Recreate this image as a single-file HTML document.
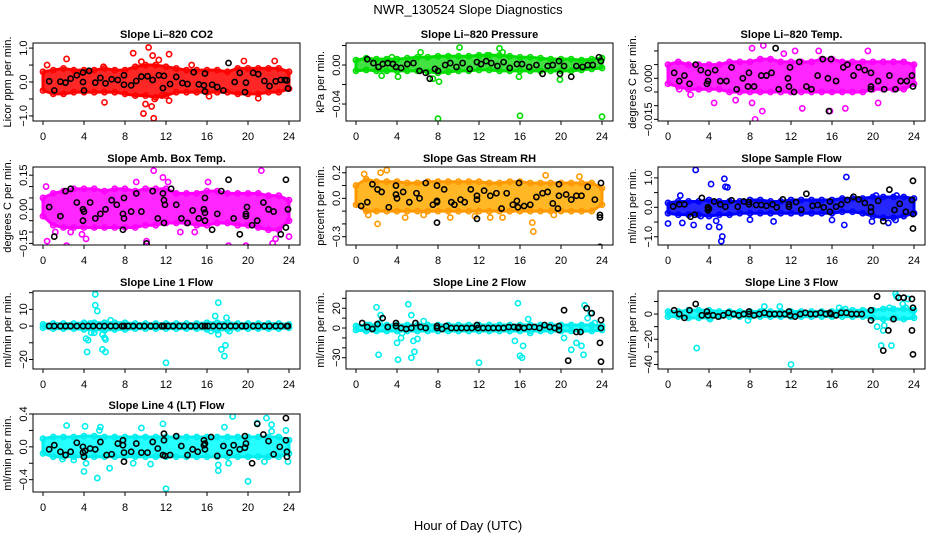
<!DOCTYPE html>
<html><head><meta charset="utf-8"><style>
html,body{margin:0;padding:0;background:#fff;}
svg{display:block;font-family:"Liberation Sans",sans-serif;}
</style></head><body>
<svg id="chart" width="936" height="540" viewBox="0 0 936 540">
<text x="468" y="14" font-size="13" text-anchor="middle">NWR_130524  Slope Diagnostics</text>
<text x="468" y="530" font-size="13" text-anchor="middle">Hour of Day (UTC)</text>
</svg>
<script>
const hours=[0,1,2,3,4,5,6,7,8,9,10,11,12,13,14,15,16,17,18,19,20,21,22,23,24];
const xTicks=[0,4,8,12,16,20,24];

const co2Up=[0.3,0.35,0.4,0.35,0.35,0.35,0.4,0.35,0.35,0.45,0.5,0.5,0.45,0.4,0.35,0.35,0.35,0.35,0.3,0.4,0.4,0.4,0.4,0.4,0.3];
const co2Lo=[-0.25,-0.35,-0.35,-0.3,-0.3,-0.3,-0.3,-0.3,-0.35,-0.4,-0.4,-0.45,-0.4,-0.3,-0.3,-0.3,-0.3,-0.3,-0.3,-0.35,-0.35,-0.35,-0.3,-0.3,-0.2];
const co2Out=[[0.4,0.5],[2.3,0.68],[6,-0.6],[8.8,0.85],[9.8,-0.93],[10,-0.65],[10.3,1.02],[10.6,-0.72],[10.8,-1.07],[10.7,0.78],[11.6,-0.4],[12.3,0.82],[12.3,-0.55],[9.6,0.6],[5.9,0.45],[16.2,-0.42],[19.6,0.62],[21,-0.48],[22.6,0.62],[14.5,0.5],[11.3,0.65],[10.9,-0.5]];
const co2Blk=[[0.6,0.02],[1.1,-0.25],[1.7,0.01],[2.2,-0.02],[2.7,0.1],[3.3,0.2],[3.9,0.28],[3.9,0.0],[4,-0.25],[4.5,0.33],[5.1,-0.02],[5.6,0.12],[6.1,-0.04],[6.7,0.08],[7.3,0.06],[7.9,0.2],[7.9,-0.08],[8.6,-0.1],[9.1,0.03],[9.6,0.16],[10.2,0.17],[10.7,0.06],[11.3,0.2],[11.7,-0.18],[11.8,0.18],[12.4,-0.06],[13,0.15],[13.6,-0.03],[14.1,-0.06],[14.7,0.29],[15.2,-0.07],[15.7,-0.1],[15.8,-0.28],[15.8,0.25],[16.5,-0.08],[17,-0.15],[17.6,-0.25],[18.1,0.56],[18.7,0.0],[19.2,0.27],[19.7,-0.3],[19.8,-0.02],[20.5,0.27],[21,0.23],[21.6,0.03],[22.1,-0.12],[22.7,0.02],[23.2,0.06],[23.6,0.06],[23.8,0.05],[23.9,-0.19]];

const presUp=[0.005,0.007,0.006,0.006,0.006,0.007,0.008,0.008,0.009,0.009,0.009,0.009,0.01,0.01,0.01,0.009,0.008,0.008,0.007,0.006,0.006,0.006,0.005,0.006,0.007];
const presLo=[-0.006,-0.005,-0.006,-0.006,-0.006,-0.006,-0.006,-0.007,-0.008,-0.007,-0.006,-0.006,-0.005,-0.005,-0.006,-0.006,-0.006,-0.006,-0.006,-0.006,-0.006,-0.006,-0.005,-0.004,-0.003];
const presOut=[[8,-0.055],[16,-0.052],[24,-0.053],[10.1,0.018],[14,0.017],[8.1,-0.017],[6.3,0.013],[12.8,0.01],[15.9,-0.012],[19.9,-0.015],[2.5,-0.011],[4.1,-0.012],[7.5,-0.014],[3.5,0.008],[14.3,0.013]];
const presBlk=[[1.1,0.006],[1.7,0.002],[2.2,-0.002],[2.6,0.001],[3.1,0.002],[3.6,0.001],[3.9,-0.002],[4.4,-0.003],[5,0.001],[5.6,0.002],[6.2,-0.006],[6.8,-0.008],[7.2,-0.014],[7.7,-0.004],[8,-0.006],[8.7,0.0],[9.2,0.002],[9.8,-0.002],[10.4,0.002],[11.1,-0.004],[11.8,0.003],[12.2,0.001],[12.7,0.004],[13.2,0.002],[13.8,-0.001],[14.4,0.003],[15,-0.003],[15.7,0.001],[16.2,0.001],[16.9,-0.002],[17.6,0.0],[18.2,-0.009],[18.7,-0.001],[19.2,0.0],[19.8,0.004],[19.9,-0.009],[20.3,-0.001],[21,-0.012],[21.5,-0.001],[22.1,-0.002],[22.6,0.0],[23.1,0.0],[23.7,0.008],[23.9,0.004]];

const ltUp=[0.005,0.006,0.005,0.005,0.005,0.005,0.006,0.006,0.006,0.007,0.007,0.006,0.006,0.006,0.006,0.007,0.007,0.006,0.006,0.006,0.006,0.006,0.006,0.006,0.005];
const ltLo=[-0.002,-0.003,-0.004,-0.004,-0.004,-0.004,-0.005,-0.005,-0.005,-0.005,-0.005,-0.005,-0.005,-0.005,-0.005,-0.005,-0.005,-0.005,-0.005,-0.005,-0.004,-0.004,-0.004,-0.004,-0.002];
const ltOut=[[8.5,-0.015],[9.3,0.012],[8.2,0.011],[9.2,-0.012],[13.1,-0.011],[15.8,-0.012],[14.7,0.01],[11.3,0.009],[12.4,0.01],[4.5,-0.009],[6.6,-0.008],[8.2,-0.009],[20.5,-0.009],[17.3,-0.011],[2.2,-0.006],[19.5,0.01],[1.1,-0.004]];
const ltBlk=[[0.6,0.002],[1.1,-0.001],[1.6,0.001],[2.1,-0.002],[2.7,0.005],[3.2,0.003],[3.8,-0.002],[3.9,-0.001],[3.9,0.002],[4.6,0.003],[5.1,-0.001],[5.7,-0.001],[6.2,0.004],[6.7,-0.004],[7.3,0.0],[7.8,-0.003],[7.9,0.002],[8.4,-0.003],[9.1,0.001],[9.6,0.001],[10.1,0.002],[10.5,0.011],[10.8,-0.004],[11.7,0.0],[11.8,-0.003],[11.9,0.004],[12.3,-0.005],[12.8,0.006],[13.5,-0.003],[14,-0.004],[14.6,0.001],[15.1,0.007],[15.6,0.0],[15.7,-0.012],[15.9,0.007],[16.4,-0.001],[17.1,0.004],[17.5,0.005],[18.1,0.001],[18.6,0.004],[19.2,0.003],[19.8,0.002],[19.8,-0.003],[19.8,-0.004],[20.5,-0.001],[21.1,-0.004],[21.6,0.001],[22.2,-0.004],[22.7,-0.001],[23.3,-0.001],[23.8,0.001],[23.9,-0.003]];

const abUp=[0.05,0.07,0.08,0.09,0.09,0.09,0.08,0.09,0.09,0.08,0.09,0.09,0.09,0.07,0.07,0.07,0.08,0.08,0.07,0.07,0.07,0.07,0.06,0.06,0.04];
const abLo=[-0.03,-0.07,-0.08,-0.08,-0.08,-0.08,-0.08,-0.08,-0.08,-0.08,-0.07,-0.07,-0.06,-0.06,-0.06,-0.07,-0.07,-0.06,-0.06,-0.07,-0.07,-0.08,-0.09,-0.09,-0.05];
const abOut=[[0.4,-0.14],[2.3,-0.16],[3.8,-0.11],[4.2,-0.13],[10.1,-0.14],[10.8,0.17],[11.7,0.14],[12.2,0.12],[16.1,0.12],[18.1,-0.16],[19.8,-0.16],[20.5,0.2],[21.3,0.17],[22.4,-0.15],[22.7,-0.13],[24,-0.12],[1.2,-0.1],[2.7,-0.1],[13.4,-0.1],[14.8,-0.1],[0.3,0.1],[9.1,0.12]];
const abBlk=[[0.6,0.01],[1.1,-0.12],[1.7,-0.03],[2.2,0.08],[2.7,0.09],[3.3,0.03],[3.9,0.0],[3.9,-0.05],[4,-0.01],[4.6,0.03],[5.1,-0.04],[5.6,-0.02],[6.1,0.0],[6.7,0.04],[7.2,0.02],[7.8,-0.02],[7.9,-0.04],[7.9,0.05],[7.8,-0.09],[8.6,-0.01],[9.1,0.07],[9.6,-0.01],[10.1,-0.15],[10.7,0.08],[11.2,-0.04],[11.7,0.07],[11.8,0.04],[11.9,0.02],[11.8,-0.06],[12.5,0.09],[13,0.02],[13.5,-0.04],[14.1,-0.06],[14.6,-0.005],[15.2,-0.04],[15.7,0.0],[15.8,-0.015],[15.8,-0.05],[15.8,0.05],[16.5,-0.09],[17,-0.02],[17.4,0.08],[18.1,0.13],[18.6,-0.04],[19.2,-0.11],[19.8,-0.02],[19.8,-0.03],[19.9,0.01],[20.4,-0.07],[20.9,-0.05],[21.5,0.03],[22,0.0],[22.5,-0.01],[23.2,-0.11],[23.7,0.13],[23.7,-0.08],[23.9,0.0]];

const rhUp=[0.1,0.15,0.13,0.13,0.13,0.12,0.12,0.13,0.13,0.13,0.13,0.13,0.13,0.12,0.12,0.13,0.13,0.12,0.12,0.12,0.12,0.12,0.12,0.12,0.08];
const rhLo=[-0.05,-0.1,-0.1,-0.1,-0.1,-0.1,-0.1,-0.1,-0.1,-0.1,-0.1,-0.1,-0.1,-0.1,-0.1,-0.1,-0.1,-0.1,-0.1,-0.1,-0.1,-0.1,-0.1,-0.1,-0.05];
const rhOut=[[0.8,0.19],[3,0.22],[2.4,0.2],[2.1,-0.2],[6.6,-0.13],[11.6,-0.14],[14.3,-0.15],[17.2,-0.19],[17.3,-0.26],[18.5,0.18],[21.8,0.17],[1.2,-0.13],[4.8,-0.15],[9.2,-0.15],[13.1,-0.15],[19.3,-0.13]];
const rhBlk=[[0.5,-0.06],[1.1,-0.03],[1.6,0.11],[2.1,0.07],[2.5,0.05],[3.2,-0.07],[3.9,0.1],[3.9,0.03],[4,0.0],[4.6,0.05],[5.2,-0.03],[5.9,0.04],[6.2,0.0],[6.8,0.12],[7.5,-0.05],[7.9,0.1],[7.9,-0.02],[7.9,-0.19],[7.9,-0.03],[8.6,0.07],[9.3,-0.03],[9.6,-0.05],[10.2,-0.01],[10.6,-0.03],[11.2,0.07],[11.8,0.02],[11.8,-0.01],[11.8,-0.16],[12.5,0.06],[13.1,0.02],[13.7,0.04],[14.2,-0.08],[14.7,0.04],[15.3,-0.05],[15.7,-0.02],[15.8,-0.07],[15.9,0.12],[16.4,-0.06],[17,-0.05],[17.6,0.01],[18.2,0.04],[18.7,0.05],[19.2,-0.04],[19.7,-0.08],[19.8,0.11],[19.8,0.02],[20.5,0.03],[21,-0.01],[21.5,0.02],[22,0.02],[22.6,0.09],[23.3,-0.01],[23.8,-0.15],[23.9,0.12],[23.8,-0.13],[23.8,-0.38]];

const sfUp=[0.15,0.2,0.2,0.2,0.25,0.2,0.2,0.2,0.25,0.25,0.2,0.2,0.25,0.25,0.25,0.25,0.25,0.3,0.3,0.3,0.35,0.35,0.35,0.35,0.3];
const sfLo=[-0.2,-0.25,-0.25,-0.25,-0.3,-0.25,-0.25,-0.2,-0.2,-0.2,-0.2,-0.2,-0.2,-0.2,-0.2,-0.2,-0.2,-0.15,-0.15,-0.2,-0.3,-0.35,-0.35,-0.3,-0.2];
const sfOut=[[0,-0.55],[1.2,0.4],[1.4,-0.53],[2.5,-0.6],[2.7,1.27],[4,-0.66],[4.2,0.79],[4.7,-0.46],[5,-0.67],[5.2,-1.15],[5.3,-0.99],[5.5,0.97],[5.6,0.7],[5.8,0.68],[8,-0.42],[10.3,-0.48],[16,-0.43],[17.2,-0.6],[17.4,1.03],[19.9,-0.48],[21.5,-0.53],[20.3,0.4],[22.3,0.4],[22.2,-0.43],[3.2,-0.3]];
const sfBlk=[[0.5,0.03],[1.1,0.1],[1.6,0.1],[2.2,-0.32],[2.6,-0.25],[3.3,0.32],[3.9,0.0],[3.9,-0.1],[4,-0.05],[4.5,0.2],[5.1,0.1],[5.6,0.02],[6.2,0.24],[6.8,0.02],[7.4,0.2],[7.9,0.18],[7.9,0.1],[8.6,0.08],[9.1,0.08],[9.6,0.05],[10.2,0.1],[10.6,0.0],[11.2,0.27],[11.8,0.1],[11.8,0.02],[12.5,0.18],[13,-0.08],[13.5,0.46],[14.1,0.05],[14.6,0.08],[15.2,0.0],[15.8,0.2],[15.8,-0.15],[16.4,0.02],[16.9,0.1],[17.5,0.25],[18.1,0.36],[18.6,0.27],[19.2,0.15],[19.8,0.0],[19.8,-0.15],[20.5,0.22],[21,-0.47],[21.6,0.6],[22.1,-0.09],[22.6,0.12],[23.2,-0.15],[23.8,0.25],[23.9,-0.23],[23.9,0.9],[23.9,-0.72]];

const l1Up=[1,1.5,1.5,1.5,2,2,2,2,2,1.5,1.5,1.5,1.5,1.5,1.5,1.5,2,2,2,1.5,1.5,1.5,1.5,1.5,1];
const l1Lo=[-1,-1.5,-1.5,-1.5,-2,-2,-2.5,-2,-2,-1.5,-1.5,-1.5,-1.5,-1.5,-1.5,-1.5,-2,-2.5,-2,-1.5,-1.5,-1.5,-1.5,-1.5,-1];
const l1Out=[[4.2,-7.5],[4.4,-8.5],[4.3,-15.5],[4.7,-4],[4.6,1.5],[5.1,19],[5.1,12.5],[5.3,9],[5.8,-5],[6,-7],[6.1,-8],[5.8,-14],[6.1,-15.5],[6.6,3.5],[12,-22],[16.4,-3],[16.8,6],[17.1,14],[17.1,-5],[17.4,-14],[17.7,-18],[17.8,-11.5],[17.9,5],[18.2,-3],[5,-4]];
const l1Blk=[[0.6,0],[1.1,0],[1.7,0],[2.2,0],[2.7,0],[3.3,0],[3.9,0],[4.4,0],[4.9,0],[5.5,0],[6.0,0],[6.6,0],[7.1,0],[7.7,0],[7.9,0],[8.3,0],[8.8,0],[9.4,0],[9.9,0],[10.5,0],[11.0,0],[11.6,0],[11.8,0],[12.2,0],[12.7,0],[13.3,0],[13.8,0],[14.4,0],[14.9,0],[15.5,0],[15.8,0],[16.1,0],[16.6,0],[17.2,0],[17.7,0],[18.3,0],[18.8,0],[19.4,0],[19.8,0],[20.5,0],[21.0,0],[21.6,0],[22.1,0],[22.7,0],[23.2,0],[23.8,0],[23.9,0]];

const l2Up=[2,3,3,3,3,3,3,3,3,3,3,3,3,3,3,3,3,3,3,3,3,3,3,3,2];
const l2Lo=[-2,-3,-3,-3,-3,-3,-3,-3,-3,-3,-3,-3,-3,-3,-3,-3,-3,-3,-3,-3,-3,-3,-3,-3,-2];
const l2Out=[[2,21],[2.2,-27],[2.4,13],[2.3,5],[4,-15],[4.1,-32],[4.4,-10],[4.5,-5],[5.1,24],[5.2,40],[5.4,13],[5.6,-13],[5.4,-30],[5.7,-24],[6,-11],[12,-35],[15.5,-13],[15.8,25],[16,-28],[16.3,-18],[16.2,-30],[16.8,9],[17,-5],[20.3,-10],[21,-22],[21.5,-15],[22,-18],[22.3,23],[22.2,-27],[22.6,10],[23.3,5],[22.9,15],[6.6,7],[1.3,3]];
const l2Blk=[[0.6,5],[1.1,1],[1.6,-1],[2.1,4],[2.6,10],[3.1,1],[3.9,5],[3.9,2],[4.4,0],[4.9,-1],[5.4,0],[5.8,5],[6.3,1],[6.8,0],[7.9,2],[7.9,0],[8.4,-1],[8.8,2],[9.3,0],[9.8,0],[10.3,0],[10.8,0],[11.3,0],[11.8,3],[11.9,0],[12.4,0],[12.9,0],[13.4,0],[13.9,0],[14.4,0],[14.9,1],[15.4,1],[15.8,0],[15.9,1],[16.4,0],[16.9,1],[17.4,1],[17.9,0],[18.4,3],[18.9,1],[19.4,0],[19.8,-2],[19.8,2],[20.3,18],[20.7,-33],[21.5,-4],[21.9,-4],[22.5,20],[23.0,15],[23.9,8],[23.9,0],[23.8,-15],[23.9,-34]];

const l3Up=[2,2,3,3,3,2,2,2,2,2,2,2,2,2,2,2,2,3,3,3,3,4,4,4,3];
const l3Lo=[-2,-2,-3,-3,-3,-2,-2,-2,-2,-2,-2,-2,-2,-2,-2,-2,-2,-2,-2,-2,-3,-4,-4,-4,-3];
const l3Out=[[2.7,28],[2.8,-27],[12,-40],[20.4,-10],[20.8,-25],[21,-13],[21.1,-9],[21.8,-25],[22.2,16],[22.3,14],[22.1,-3],[22.9,8],[23.2,5],[23.4,12],[23.8,3],[21.6,5],[4.1,-4],[7.8,-5],[9.4,6],[10.9,6],[16.7,5],[17.3,4]];
const l3Blk=[[0.6,3],[1.1,0],[1.6,-3],[2.1,3],[2.7,8],[3.3,-1],[3.8,2],[3.9,-1],[4.4,-1],[4.9,-2],[5.4,-1],[5.9,1],[6.4,0],[6.9,-1],[7.4,0],[7.9,0],[7.9,2],[8.4,-1],[8.9,0],[9.4,1],[9.9,0],[10.4,0],[10.9,0],[11.4,0],[11.8,2],[11.9,-1],[12.4,-2],[12.9,0],[13.4,1],[13.9,0],[14.4,0],[14.9,1],[15.4,0],[15.8,1],[15.9,0],[16.4,-1],[16.9,1],[17.4,1],[17.9,0],[18.4,0],[18.9,0],[19.8,3],[19.8,-5],[20.4,14],[21,-29],[21.5,-13],[22,-4],[22.5,13],[23,13],[23.8,12],[23.9,5],[23.8,-13],[23.9,-32]];

const l4Up=[0.1,0.12,0.12,0.12,0.13,0.13,0.12,0.12,0.12,0.12,0.12,0.12,0.12,0.12,0.12,0.12,0.12,0.12,0.12,0.12,0.12,0.12,0.12,0.12,0.08];
const l4Lo=[-0.08,-0.12,-0.12,-0.12,-0.12,-0.12,-0.12,-0.12,-0.12,-0.12,-0.12,-0.12,-0.12,-0.12,-0.12,-0.12,-0.12,-0.12,-0.12,-0.12,-0.12,-0.12,-0.12,-0.12,-0.08];
const l4Out=[[2.3,0.26],[4.1,0.25],[4,-0.3],[4.2,-0.2],[5.3,-0.38],[5.6,0.24],[5.5,0.2],[6.5,-0.26],[8.8,-0.2],[9.6,0.23],[10.5,-0.21],[11.7,0.28],[12,-0.51],[17.1,-0.29],[17.1,-0.22],[17.7,0.24],[18.5,0.37],[18.1,-0.2],[20,-0.42],[20.9,0.29],[21.8,0.35],[21.6,-0.18],[22.3,0.27],[22.3,0.19],[23.7,0.2],[23.9,-0.18],[3,-0.16],[1.9,-0.15]];
const l4Blk=[[0.6,-0.03],[1.1,0.02],[1.7,-0.06],[2.2,-0.1],[2.7,-0.06],[3.3,0.05],[3.9,0.0],[3.9,-0.07],[4,-0.12],[4.1,-0.05],[4.6,-0.02],[5.1,-0.03],[5.6,0.06],[6.2,-0.1],[6.7,-0.09],[7.3,0.04],[7.8,0.08],[7.8,0.02],[7.9,-0.07],[7.9,-0.18],[8.6,-0.06],[9.1,0.04],[9.6,-0.07],[10.2,-0.07],[10.7,0.06],[11.2,-0.02],[11.7,-0.1],[11.8,0.16],[11.8,0.08],[11.9,-0.11],[12.4,-0.1],[13,0.13],[13.5,0.01],[14.1,-0.1],[14.6,-0.03],[15.1,-0.06],[15.7,0.02],[15.7,0.08],[15.8,0.04],[15.8,-0.03],[16.4,0.12],[17,-0.11],[17.6,0.01],[18.2,-0.07],[18.6,0.02],[19.2,-0.03],[19.7,0.13],[19.7,-0.01],[19.8,0.04],[20.4,-0.2],[20.9,0.28],[21.5,0.15],[22,0.07],[22.5,-0.09],[23.1,0.0],[23.7,0.35],[23.7,0.08],[23.8,-0.06],[23.8,-0.12]];

const panels=[
 {id:'co2',title:'Slope Li\u2013820 CO2',ylab:'Licor ppm per min.',col:0,row:0,min:-1.15,max:1.15,ticks:[-1,-0.5,0,0.5,1],labels:[[1,'1.0'],[0,'0.0'],[-1,'\u22121.0']],color:'#ff0000',band:'#ff0000',up:co2Up,lo:co2Lo,out:co2Out,blk:co2Blk},
 {id:'pressure',title:'Slope Li\u2013820 Pressure',ylab:'kPa per min.',col:1,row:0,min:-0.0574,max:0.0226,ticks:[0.02,0,-0.02,-0.04],labels:[[0,'0.00'],[-0.04,'\u22120.04']],color:'#00dd00',band:'#22dd22',up:presUp,lo:presLo,out:presOut,blk:presBlk},
 {id:'li-temp',title:'Slope Li\u2013820 Temp.',ylab:'degrees C per min.',col:2,row:0,min:-0.0156,max:0.0129,ticks:[0.01,0.005,0,-0.005,-0.01,-0.015],labels:[[0,'0.000'],[-0.015,'\u22120.015']],color:'#ff00ff',band:'#ff00ff',up:ltUp,lo:ltLo,out:ltOut,blk:ltBlk},
 {id:'amb-box-temp',title:'Slope Amb. Box Temp.',ylab:'degrees C per min.',col:0,row:1,min:-0.157,max:0.186,ticks:[0.15,0.1,0.05,0,-0.05,-0.1,-0.15],labels:[[0.15,'0.15'],[0,'0.00'],[-0.15,'\u22120.15']],color:'#ff00ff',band:'#ff00ff',up:abUp,lo:abLo,out:abOut,blk:abBlk},
 {id:'gas-rh',title:'Slope Gas Stream RH',ylab:'percent per min.',col:1,row:1,min:-0.365,max:0.245,ticks:[0.2,0.1,0,-0.1,-0.2,-0.3],labels:[[0.2,'0.2'],[0,'0.0'],[-0.3,'\u22120.3']],color:'#ff9900',band:'#ffaa00',up:rhUp,lo:rhLo,out:rhOut,blk:rhBlk},
 {id:'sample-flow',title:'Slope Sample Flow',ylab:'ml/min per min.',col:2,row:1,min:-1.28,max:1.37,ticks:[1,0.5,0,-0.5,-1],labels:[[1,'1.0'],[0,'0.0'],[-1,'\u22121.0']],color:'#0000ff',band:'#0000ff',up:sfUp,lo:sfLo,out:sfOut,blk:sfBlk},
 {id:'line1-flow',title:'Slope Line 1 Flow',ylab:'ml/min per min.',col:0,row:2,min:-25.7,max:21,ticks:[20,10,0,-10,-20],labels:[[10,'10'],[0,'0'],[-20,'\u221220']],color:'#00eeee',band:'#00ffff',up:l1Up,lo:l1Lo,out:l1Out,blk:l1Blk},
 {id:'line2-flow',title:'Slope Line 2 Flow',ylab:'ml/min per min.',col:1,row:2,min:-41.4,max:37.4,ticks:[30,20,10,0,-10,-20,-30],labels:[[20,'20'],[0,'0'],[-30,'\u221230']],color:'#00eeee',band:'#00ffff',up:l2Up,lo:l2Lo,out:l2Out,blk:l2Blk},
 {id:'line3-flow',title:'Slope Line 3 Flow',ylab:'ml/min per min.',col:2,row:2,min:-43.6,max:18.3,ticks:[10,0,-10,-20,-30,-40],labels:[[0,'0'],[-20,'\u221220'],[-40,'\u221240']],color:'#00eeee',band:'#00ffff',up:l3Up,lo:l3Lo,out:l3Out,blk:l3Blk},
 {id:'line4-flow',title:'Slope Line 4 (LT) Flow',ylab:'ml/min per min.',col:0,row:3,min:-0.55,max:0.4,ticks:[0.4,0.2,0,-0.2,-0.4],labels:[[0.4,'0.4'],[0,'0.0'],[-0.4,'\u22120.4']],color:'#00eeee',band:'#00ffff',up:l4Up,lo:l4Lo,out:l4Out,blk:l4Blk}
];

const NS='http://www.w3.org/2000/svg';
const svg=document.getElementById('chart');
const colLeft=[33,346,658], rowTop=[43,167,291,414], W=267, H=78;
function mk(tag,attrs,parent){const e=document.createElementNS(NS,tag);for(const k in attrs)e.setAttribute(k,attrs[k]);(parent||svg).appendChild(e);return e;}

panels.forEach(p=>{
  const L=colLeft[p.col], T=rowTop[p.row];
  const xs=t=>L+10+t/24*246;
  const ys=v=>T+(p.max-v)/(p.max-p.min)*H;
  const g=mk('g',{});
  
  
  const defs=mk('defs',{},g);
  const cp=mk('clipPath',{id:'clip-'+p.id},defs);
  mk('rect',{x:L,y:T,width:W,height:H},cp);
  const marks=mk('g',{'clip-path':'url(#clip-'+p.id+')'},g);
  
  
  // band
  let pts=hours.map((h,i)=>xs(h)+','+ys(p.up[i]));
  pts=pts.concat(hours.map((h,i)=>xs(h)+','+ys(p.lo[i])).reverse());
  const band=mk('polygon',{points:pts.join(' '),fill:p.band,'fill-opacity':'0.85',stroke:p.color,'stroke-width':'3','stroke-linejoin':'round'},marks);
  
  
  hours.forEach((h,i)=>{
    [p.up[i],p.lo[i]].forEach(v=>{
      const c=mk('circle',{cx:xs(h),cy:ys(v),r:2.6,fill:'none',stroke:p.color,'stroke-width':1.6},marks);
      
      
    });
  });
  p.out.forEach(d=>{
    const c=mk('circle',{cx:xs(d[0]),cy:ys(d[1]),r:2.6,fill:'none',stroke:p.color,'stroke-width':1.6},marks);
    
    
  });
  p.blk.forEach(d=>{
    const c=mk('circle',{cx:xs(d[0]),cy:ys(d[1]),r:2.6,fill:'none',stroke:'#000','stroke-width':1.6},marks);
    
    
  });
  // box
  const box=mk('rect',{x:L,y:T,width:W,height:H,fill:'none',stroke:'#000','stroke-width':1},g);
  
  
  // x axis
  const xa=mk('g',{},g);
  
  
  xTicks.forEach(t=>{
    mk('line',{x1:xs(t),x2:xs(t),y1:T+H,y2:T+H+4,stroke:'#000'},xa);
    const tx=mk('text',{x:xs(t),y:T+H+19,'font-size':11,'text-anchor':'middle'},xa);
    tx.textContent=t;
    
    
  });
  // y axis
  const ya=mk('g',{},g);
  
  
  p.ticks.forEach(v=>{mk('line',{x1:L-4,x2:L,y1:ys(v),y2:ys(v),stroke:'#000'},ya);});
  p.labels.forEach(l=>{
    const y=ys(l[0]);
    const tx=mk('text',{x:L-6,y:y,'font-size':11,'text-anchor':'middle',transform:'rotate(-90 '+(L-6)+' '+y+')'},ya);
    tx.textContent=l[1];
    
    
  });
  const yl=mk('text',{x:L-22,y:T+H/2,'font-size':11,'text-anchor':'middle',transform:'rotate(-90 '+(L-22)+' '+(T+H/2)+')'},g);
  yl.textContent=p.ylab;
  
  
  const ti=mk('text',{x:L+W/2,y:T-5,'font-size':11,'font-weight':'bold','text-anchor':'middle'},g);
  ti.textContent=p.title;
  
  
});
</script>
</body></html>
